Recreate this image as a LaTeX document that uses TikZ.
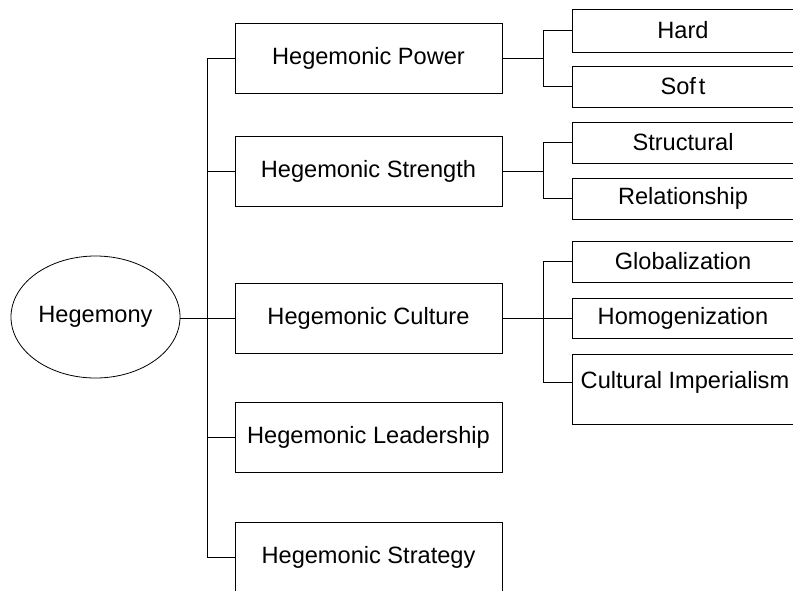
\documentclass[tikz,border=0pt]{standalone}
\usepackage{fontspec}
\setmainfont{Liberation Sans}
\usetikzlibrary{shapes.geometric}
\begin{document}
\begin{tikzpicture}[x=1pt,y=-1pt,
  every node/.style={font=\fontsize{23.6}{28}\selectfont, inner sep=0pt},
  line/.style={draw=black, line width=0.8pt},
  mainbox/.style={line, rectangle, minimum width=267pt, minimum height=70pt},
  subbox/.style={line, rectangle, minimum width=222pt, minimum height=41pt},
  hubshape/.style={line, ellipse, minimum width=169pt, minimum height=122pt}
]
\useasboundingbox (0,0) rectangle (793,590);
\clip (0,0) rectangle (793,590);

\node[hubshape] (hub) at (95.5,317) {Hegemony};

\node[mainbox] (pow) at (368.5,58) {Hegemonic Power};
\node[mainbox] (str) at (368.5,171) {Hegemonic Strength};
\node[mainbox] (cul) at (368.5,318) {Hegemonic Culture};
\node[mainbox] (lea) at (368.5,437.5) {Hegemonic Leadership};
\node[mainbox] (sta) at (368.5,557) {Hegemonic Strategy};

\node[subbox, minimum height=43pt] (hard) at (683,30.5) {Hard};
\node[subbox] (soft) at (683,86.5) {Sof\hspace{3pt}t};
\node[subbox] (stru) at (683,142.5) {Structural};
\node[subbox] (rel) at (683,198.5) {Relationship};
\node[subbox] (glob) at (683,261.5) {Globalization};
\node[subbox, minimum height=40pt] (homo) at (683,318) {Homogenization};
\node[subbox, minimum height=70pt] (ci) at (683,389) {};
\node (citext) at (685,382) {Cultural Imperialism};

\coordinate (tr) at (207,0);
\coordinate (sv) at (543,0);

% trunk
\draw[line] (tr |- pow.west) -- (tr |- sta.west);
\draw[line] (hub.east |- cul.west) -- (cul.west);
\foreach \b in {pow,str,lea,sta}{
  \draw[line] (tr |- \b.west) -- (\b.west);
}

% power branch
\draw[line] (pow.east) -- (sv |- pow.east);
\draw[line] (sv |- hard.west) -- (sv |- soft.west);
\draw[line] (sv |- hard.west) -- (hard.west);
\draw[line] (sv |- soft.west) -- (soft.west);

% strength branch
\draw[line] (str.east) -- (sv |- str.east);
\draw[line] (sv |- stru.west) -- (sv |- rel.west);
\draw[line] (sv |- stru.west) -- (stru.west);
\draw[line] (sv |- rel.west) -- (rel.west);

% culture branch
\draw[line] (cul.east) -- (homo.west);
\draw[line] (sv |- glob.west) -- (sv |- citext);
\draw[line] (sv |- glob.west) -- (glob.west);
\draw[line] (sv |- citext) -- (ci.west |- citext);
\end{tikzpicture}
\end{document}
